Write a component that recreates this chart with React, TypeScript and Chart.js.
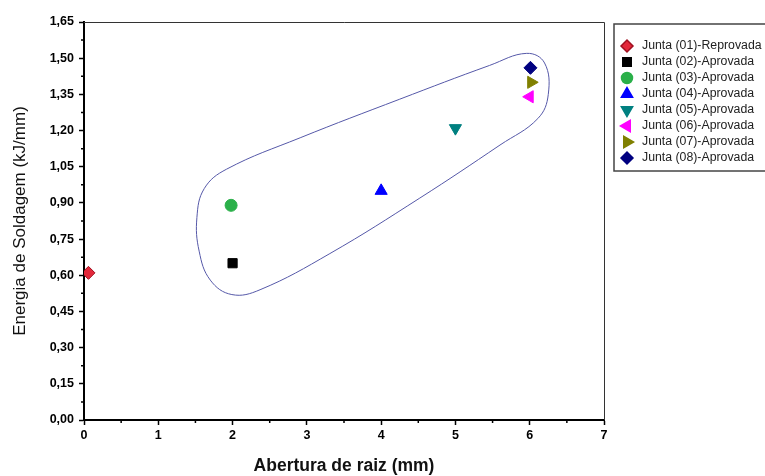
import React, { useEffect, useRef } from 'react';
import { Chart, registerables } from 'chart.js';
import { drawPoint } from 'chart.js/helpers';

Chart.register(...registerables);

// ---- Data ----
const juntaLabels = [
  'Junta (01)-Reprovada',
  'Junta (02)-Aprovada',
  'Junta (03)-Aprovada',
  'Junta (04)-Aprovada',
  'Junta (05)-Aprovada',
  'Junta (06)-Aprovada',
  'Junta (07)-Aprovada',
  'Junta (08)-Aprovada',
];
const aberturaValues = [0.06, 2.0, 1.98, 4.0, 5.0, 6.0, 6.02, 6.01];
const energiaValues = [0.61, 0.65, 0.89, 0.95, 1.21, 1.34, 1.4, 1.46];

// Outline around the approved joints (data coordinates)
const outlineX = [1.52, 1.62, 1.92, 2.91, 4.25, 5.46, 5.96, 6.2, 6.25, 6.11, 5.6, 4.52, 3.31, 2.37, 1.99, 1.7, 1.55];
const outlineY = [0.84, 0.96, 1.04, 1.17, 1.33, 1.47, 1.52, 1.48, 1.35, 1.25, 1.14, 0.92, 0.69, 0.54, 0.52, 0.58, 0.7];

const xTickValues = [0, 1, 2, 3, 4, 5, 6, 7];
const yTickValues = [0, 0.15, 0.3, 0.45, 0.6, 0.75, 0.9, 1.05, 1.2, 1.35, 1.5, 1.65];

const xTitle = 'Abertura de raiz (mm)';
const yTitle = 'Energia de Soldagem (kJ/mm)';

// ---- Styles ----
const markerColors = ['#e3283a', '#000000', '#2bb04a', '#0000ff', '#008080', '#ff00ff', '#808000', '#000080'];
const markerBorders = ['#a01020', '#000000', '#2bb04a', '#0000ff', '#008080', '#ff00ff', '#808000', '#000080'];
const markerStyles = ['rectRot', 'rect', 'circle', 'triangle', 'triangle', 'triangle', 'triangle', 'rectRot'];
const markerRotations = [0, 0, 0, 0, 180, 270, 90, 0];
const markerRadius = [6.5, 6.5, 6, 7, 7, 7, 7, 6.5];

const FONT = "'Liberation Sans', Arial, sans-serif";

const decorPlugin = {
  id: 'decor',
  afterDraw(chart: any) {
    const { ctx, chartArea } = chart;
    const { left, right, top, bottom } = chartArea;
    const xs = chart.scales.x;
    const ys = chart.scales.y;
    ctx.save();
    // top and right frame
    ctx.strokeStyle = '#333';
    ctx.lineWidth = 1;
    ctx.beginPath();
    ctx.moveTo(left, top + 0.5);
    ctx.lineTo(right + 0.5, top + 0.5);
    ctx.lineTo(right + 0.5, bottom);
    ctx.stroke();
    // minor ticks
    ctx.strokeStyle = '#000';
    ctx.lineWidth = 1.5;
    ctx.beginPath();
    for (let i = 0; i < yTickValues.length - 1; i++) {
      const v = (yTickValues[i] + yTickValues[i + 1]) / 2;
      const py = ys.getPixelForValue(v);
      ctx.moveTo(left - 3, py);
      ctx.lineTo(left, py);
    }
    for (let i = 0; i < xTickValues.length - 1; i++) {
      const v = (xTickValues[i] + xTickValues[i + 1]) / 2;
      const px = xs.getPixelForValue(v);
      ctx.moveTo(px, bottom);
      ctx.lineTo(px, bottom + 3);
    }
    ctx.stroke();

    // axis titles
    ctx.fillStyle = '#111';
    ctx.textAlign = 'center';
    ctx.textBaseline = 'middle';
    ctx.font = `bold 17.5px ${FONT}`;
    ctx.fillText(xTitle, (left + right) / 2, 466);
    ctx.save();
    ctx.translate(20, (top + bottom) / 2);
    ctx.rotate(-Math.PI / 2);
    ctx.font = `17px ${FONT}`;
    ctx.fillText(yTitle, 0, 0);
    ctx.restore();

    // legend box
    const lx = 614;
    const ly = 24;
    const lw = 160;
    const lh = 147;
    ctx.strokeStyle = '#444';
    ctx.lineWidth = 1.5;
    ctx.strokeRect(lx, ly, lw, lh);
    ctx.textAlign = 'left';
    ctx.font = `12.3px ${FONT}`;
    for (let i = 0; i < juntaLabels.length; i++) {
      const cy = 46 + i * 16;
      ctx.fillStyle = markerColors[i];
      ctx.strokeStyle = markerBorders[i];
      drawPoint(ctx, {
        pointStyle: markerStyles[i],
        rotation: markerRotations[i],
        radius: markerRadius[i] - 0.5,
        borderWidth: 1,
      } as any, 627, cy);
      ctx.fillStyle = '#222';
      ctx.fillText(juntaLabels[i], 642, cy);
    }
    ctx.restore();
  },
};

export default function App() {
  const ref = useRef<HTMLCanvasElement | null>(null);
  useEffect(() => {
    document.body.style.margin = '0';
    const outlineData = outlineX.map((x, i) => ({ x, y: outlineY[i] }));
    const n = outlineData.length;
    const closed = [outlineData[n - 1], ...outlineData, outlineData[0], outlineData[1]];
    const lastSeg = closed.length - 2;

    const pointSets = juntaLabels.map((label, i) => ({
      type: 'scatter' as const,
      label,
      data: [{ x: aberturaValues[i], y: energiaValues[i] }],
      backgroundColor: markerColors[i],
      borderColor: markerBorders[i],
      borderWidth: 1,
      pointStyle: markerStyles[i],
      rotation: markerRotations[i],
      pointRadius: markerRadius[i],
      pointHoverRadius: markerRadius[i],
    }));

    const chart = new Chart(ref.current!, {
      type: 'scatter',
      data: {
        datasets: [
          {
            label: 'outline',
            data: closed,
            showLine: true,
            tension: 0.4,
            borderColor: '#5558a8',
            borderWidth: 1,
            pointRadius: 0,
            fill: false,
            segment: {
              borderColor: (c: any) =>
                c.p0DataIndex === 0 || c.p0DataIndex === lastSeg ? 'rgba(0,0,0,0)' : '#5558a8',
            },
          } as any,
          ...pointSets,
        ],
      },
      options: {
        responsive: false,
        animation: false,
        devicePixelRatio: 1,
        layout: { padding: { left: 0, top: 22, right: 161, bottom: 0 } },
        plugins: { legend: { display: false }, tooltip: { enabled: false }, title: { display: false } },
        scales: {
          x: {
            type: 'linear',
            min: 0,
            max: 7,
            afterFit: (s: any) => {
              s.height = 56;
            },
            afterBuildTicks: (s: any) => {
              s.ticks = xTickValues.map((value) => ({ value }));
            },
            grid: {
              drawOnChartArea: false,
              drawTicks: true,
              tickLength: 5,
              tickColor: '#000',
              tickWidth: 1.5,
            },
            border: { display: true, color: '#000', width: 2 },
            ticks: {
              padding: 3,
              color: '#000',
              font: { family: FONT, size: 12.5, weight: 'bold' },
              callback: (v: any) => String(v),
            },
          },
          y: {
            type: 'linear',
            min: 0,
            max: 1.65,
            afterFit: (s: any) => {
              s.width = 84;
            },
            afterBuildTicks: (s: any) => {
              s.ticks = yTickValues.map((value) => ({ value }));
            },
            grid: {
              drawOnChartArea: false,
              drawTicks: true,
              tickLength: 5,
              tickColor: '#000',
              tickWidth: 1.5,
            },
            border: { display: true, color: '#000', width: 2 },
            ticks: {
              padding: 5,
              color: '#000',
              font: { family: FONT, size: 12.5, weight: 'bold' },
              callback: (v: any) => Number(v).toFixed(2).replace('.', ','),
            },
          },
        },
      },
      plugins: [decorPlugin],
    });
    return () => chart.destroy();
  }, []);

  return (
    <div style={{ position: 'absolute', left: 0, top: 0, width: 765, height: 476, background: '#fff' }}>
      <canvas ref={ref} width={765} height={476} style={{ width: 765, height: 476, display: 'block' }} />
    </div>
  );
}
